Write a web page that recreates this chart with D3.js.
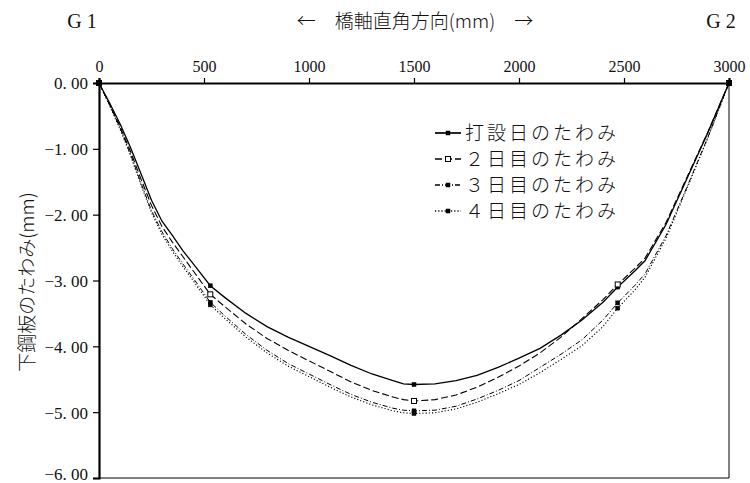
<!DOCTYPE html>
<html>
<head>
<meta charset="utf-8">
<script src="https://cdn.jsdelivr.net/npm/d3@7"></script>
<style>
body{margin:0;background:#fff;}
text{fill:#111;}
.num{font-family:"Liberation Serif","DejaVu Serif",serif;font-size:16px;}
.jp{font-family:"Noto Sans CJK JP","Noto Sans",sans-serif;font-size:19px;font-weight:300;}
</style>
</head>
<body>
<svg id="chart" width="750" height="483"></svg>
<script>
// distance across the bridge axis (mm)
const xs=[0,50,100,150,200,250,300,350,400,450,530,600,700,800,900,1000,1100,1200,1300,1400,1450,1500,1600,1700,1800,1900,2000,2100,2200,2300,2400,2470,2550,2600,2700,2800,2900,3000];
const day0=[0,-0.30,-0.62,-0.98,-1.38,-1.78,-2.10,-2.32,-2.55,-2.75,-3.08,-3.26,-3.50,-3.70,-3.86,-4.00,-4.14,-4.29,-4.42,-4.52,-4.57,-4.58,-4.57,-4.52,-4.44,-4.32,-4.18,-4.03,-3.83,-3.60,-3.33,-3.10,-2.86,-2.70,-2.15,-1.45,-0.75,0];
const day2=[0,-0.32,-0.66,-1.04,-1.46,-1.86,-2.18,-2.42,-2.64,-2.86,-3.21,-3.40,-3.66,-3.88,-4.06,-4.22,-4.38,-4.54,-4.67,-4.77,-4.81,-4.83,-4.81,-4.74,-4.62,-4.47,-4.30,-4.10,-3.86,-3.58,-3.29,-3.06,-2.82,-2.66,-2.12,-1.43,-0.74,0];
const day3=[0,-0.33,-0.68,-1.08,-1.52,-1.94,-2.26,-2.52,-2.75,-2.97,-3.33,-3.54,-3.82,-4.06,-4.26,-4.42,-4.58,-4.73,-4.85,-4.94,-4.97,-4.98,-4.97,-4.91,-4.80,-4.67,-4.52,-4.32,-4.12,-3.90,-3.60,-3.34,-3.08,-2.90,-2.32,-1.58,-0.82,0];
const day4=[0,-0.34,-0.70,-1.10,-1.55,-1.97,-2.30,-2.56,-2.79,-3.01,-3.37,-3.58,-3.86,-4.10,-4.30,-4.46,-4.62,-4.77,-4.89,-4.98,-5.01,-5.02,-5.01,-4.95,-4.85,-4.72,-4.58,-4.40,-4.20,-3.99,-3.70,-3.42,-3.15,-2.95,-2.36,-1.60,-0.83,0];
const markerX=[0,530,1500,2470,3000];
const seriesNames=["打設日のたわみ","２日目のたわみ","３日目のたわみ","４日目のたわみ"];
const xTicks=[0,500,1000,1500,2000,2500,3000];
const yTicks=[0,-1,-2,-3,-4,-5,-6];

const styles=[
  {dash:null,w:1.3,open:false,ms:4},
  {dash:"7,3",w:1.1,open:true,ms:5},
  {dash:"5,2,1,2",w:1,open:false,ms:4},
  {dash:"1.2,2",w:1.1,open:false,ms:4}
];

const svg=d3.select("#chart");
const L=99,R=729,T=83,B=478;
const x=d3.scaleLinear().domain([0,3000]).range([L,R]);
const y=d3.scaleLinear().domain([0,-6]).range([T,B]);

// frame: thin bottom/right
svg.append("line").attr("x1",L).attr("x2",R).attr("y1",B).attr("y2",B).attr("stroke","#000").attr("stroke-width",1);
svg.append("line").attr("x1",R).attr("x2",R).attr("y1",T).attr("y2",B).attr("stroke","#000").attr("stroke-width",1);

const xAxis=svg.append("g").attr("transform",`translate(0,${T})`)
  .call(d3.axisTop(x).tickValues(xTicks).tickSize(5).tickPadding(6).tickFormat(d3.format("d")));
xAxis.select(".domain").attr("stroke-width",2.2);
xAxis.selectAll("text").attr("class","num").attr("font-size",null).attr("font-family",null);

const yAxis=svg.append("g").attr("transform",`translate(${L},0)`)
  .call(d3.axisLeft(y).tickValues(yTicks).tickSize(6).tickPadding(5).tickFormat(d=>d3.format(".2f")(d).replace(".",". ")));
yAxis.select(".domain").attr("stroke-width",2.2);
yAxis.selectAll("text").attr("class","num").attr("font-size",null).attr("font-family",null)
  .style("font-size","17px").attr("dy",d=>d===-6?"0.1em":"0.35em");
svg.selectAll(".tick line").attr("stroke-width",1.2);

const all=[day0,day2,day3,day4];
const line=d3.line().x((d,i)=>x(xs[i])).y(d=>y(d));
all.forEach((s,k)=>{
  const st=styles[k];
  svg.append("path").datum(s).attr("d",line).attr("fill","none").attr("stroke","#000")
    .attr("stroke-width",st.w).attr("stroke-dasharray",st.dash);
  const pts=xs.map((v,i)=>[v,s[i]]).filter(p=>markerX.includes(p[0]));
  svg.selectAll(null).data(pts).enter().append("rect")
    .attr("x",p=>x(p[0])-st.ms/2).attr("y",p=>y(p[1])-st.ms/2)
    .attr("width",st.ms).attr("height",st.ms)
    .attr("fill",st.open?"#fff":"#000").attr("stroke","#000").attr("stroke-width",st.open?1:0.5);
});

// legend
const lg=svg.append("g");
seriesNames.forEach((n,k)=>{
  const st=styles[k], yy=133+k*26;
  lg.append("line").attr("x1",435).attr("x2",461).attr("y1",yy).attr("y2",yy)
    .attr("stroke","#000").attr("stroke-width",st.w+0.4).attr("stroke-dasharray",st.dash);
  lg.append("rect").attr("x",448-st.ms/2).attr("y",yy-st.ms/2).attr("width",st.ms).attr("height",st.ms)
    .attr("fill",st.open?"#fff":"#000").attr("stroke","#000").attr("stroke-width",st.open?1:0.5);
  lg.append("text").attr("class","jp").attr("x",465).attr("y",yy).attr("dy","0.36em")
    .attr("letter-spacing","3px").text(n);
});

// titles
svg.append("text").attr("class","num").attr("x",82).attr("y",28).attr("text-anchor","middle").style("font-size","20px").text("G 1");
svg.append("text").attr("class","num").attr("x",721).attr("y",28).attr("text-anchor","middle").style("font-size","20px").text("G 2");
svg.append("text").attr("class","jp").attr("x",415).attr("y",28).attr("text-anchor","middle").text("←　橋軸直角方向(mm)　→");
svg.append("text").attr("class","jp").attr("transform","translate(27,282) rotate(-90)").attr("text-anchor","middle").attr("dy","0.35em").text("下鋼板のたわみ(mm)");
</script>
</body>
</html>
